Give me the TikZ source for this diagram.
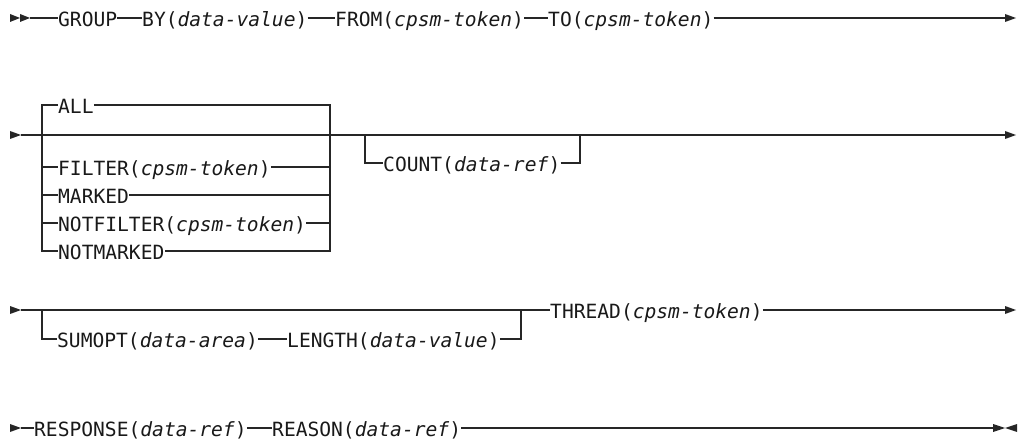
\documentclass[tikz,border=0pt]{standalone}
\usepackage{fontspec}
\setmainfont{DejaVu Sans Mono}
\newcommand\rtri[2]{\fill[tip] (#1,#2-4) -- (#1+11,#2) -- (#1,#2+4) -- cycle;}
\begin{document}
\begin{tikzpicture}[x=1pt,y=-1pt,
  rail/.style={line width=1.3pt, draw=black!85},
  kw/.style={anchor=west, inner sep=0pt, text height=17pt, text depth=0pt,
    font=\fontsize{19.6}{20}\selectfont, text=black!90},
  tip/.style={fill=black!85}]
\useasboundingbox (0,0) rectangle (1021,441);

% ---------- Row 1 ----------
\coordinate (s1) at (30,18);
\coordinate (e1) at (1005,18);
\node[kw] (group) at (58,18) {GROUP};
\node[kw] (by) at (142,18) {BY(\textit{data-value})};
\node[kw] (from) at (335,18) {FROM(\textit{cpsm-token})};
\node[kw] (to) at (548,18) {TO(\textit{cpsm-token})};
\fill[tip] (10,14) -- (20,18) -- (10,22) -- cycle;
\fill[tip] (20,14) -- (30,18) -- (20,22) -- cycle;
\draw[rail] (s1) -- (group.west);
\draw[rail] (group.east) -- (by.west);
\draw[rail] (by.east) -- (from.west);
\draw[rail] (from.east) -- (to.west);
\draw[rail] (to.east) -- (e1);
\rtri{1005}{18}

% ---------- Row 2 ----------
\coordinate (s2) at (21,135);
\coordinate (e2) at (1005,135);
\rtri{10}{135}
\draw[rail] (s2) -- (e2);
\rtri{1005}{135}
\coordinate (sl1) at (42,105);
\coordinate (sl2) at (42,251);
\coordinate (sr1) at (330,105);
\coordinate (sr2) at (330,251);
\node[kw] (all) at (58,105) {ALL};
\node[kw] (filter) at (58,167) {FILTER(\textit{cpsm-token})};
\node[kw] (marked) at (58,195) {MARKED};
\node[kw] (notfilter) at (58,223) {NOTFILTER(\textit{cpsm-token})};
\node[kw] (notmarked) at (58,251) {NOTMARKED};
\draw[rail] (all.west) -- (sl1) -- (sl2) -- (notmarked.west);
\draw[rail] (all.east) -- (sr1) -- (sr2) -- (notmarked.east);
\foreach \n in {filter,marked,notfilter}{
  \draw[rail] (\n.west -| sl1) -- (\n.west);
  \draw[rail] (\n.east) -- (\n.east -| sr1);
}
\coordinate (c1) at (365,135);
\coordinate (c2) at (580,135);
\node[kw] (count) at (383,163) {COUNT(\textit{data-ref})};
\draw[rail] (c1) |- (count.west);
\draw[rail] (count.east) -| (c2);

% ---------- Row 3 ----------
\coordinate (s3) at (21,310);
\coordinate (e3) at (1005,310);
\rtri{10}{310}
\coordinate (b1) at (42,310);
\coordinate (b2) at (521,310);
\node[kw] (sumopt) at (57,339) {SUMOPT(\textit{data-area})};
\node[kw] (length) at (287,339) {LENGTH(\textit{data-value})};
\node[kw] (thread) at (550,310) {THREAD(\textit{cpsm-token})};
\draw[rail] (s3) -- (thread.west);
\draw[rail] (thread.east) -- (e3);
\rtri{1005}{310}
\draw[rail] (b1) |- (sumopt.west);
\draw[rail] (sumopt.east) -- (length.west);
\draw[rail] (length.east) -| (b2);

% ---------- Row 4 ----------
\coordinate (s4) at (21,428);
\coordinate (e4) at (993,428);
\rtri{10}{428}
\node[kw] (response) at (34,428) {RESPONSE(\textit{data-ref})};
\node[kw] (reason) at (272,428) {REASON(\textit{data-ref})};
\draw[rail] (s4) -- (response.west);
\draw[rail] (response.east) -- (reason.west);
\draw[rail] (reason.east) -- (e4);
\fill[tip] (993,424) -- (1005,428) -- (993,432) -- cycle;
\fill[tip] (1017,424) -- (1005,428) -- (1017,432) -- cycle;
\end{tikzpicture}
\end{document}
